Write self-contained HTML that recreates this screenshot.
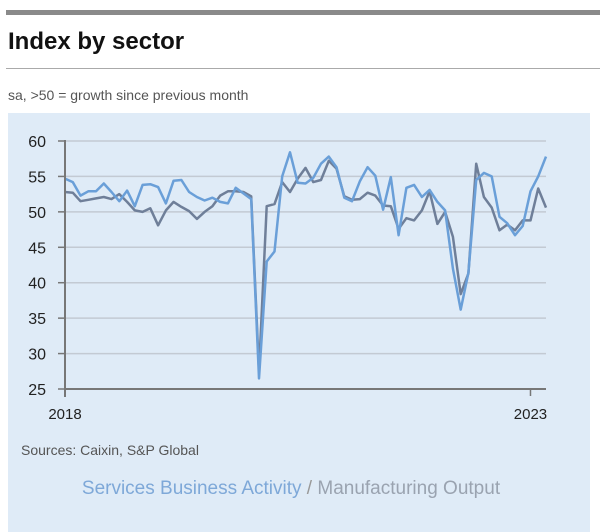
<!DOCTYPE html>
<html><head><meta charset="utf-8"><style>
body{margin:0;width:600px;height:532px;background:#fff;font-family:"Liberation Sans",sans-serif;position:relative;overflow:hidden}
.abs{position:absolute}
</style></head><body>
<div class="abs" style="left:6px;top:10px;width:594px;height:5px;background:#8a8a8a"></div>
<div class="abs" style="left:8px;top:28px;font-size:24px;font-weight:bold;color:#111">Index by sector</div>
<div class="abs" style="left:6px;top:68px;width:594px;height:1px;background:#aaa"></div>
<div class="abs" style="left:8px;top:87px;font-size:14px;color:#555">sa, &gt;50 = growth since previous month</div>
<div class="abs" style="left:8px;top:113px;width:582px;height:419px;background:#dfebf7"></div>
<svg class="abs" style="left:0;top:0" width="600" height="532">
<g id="grid"></g><g id="lines"></g><g id="axes"></g>
</svg>
<div class="abs" style="left:21px;top:442px;font-size:14px;color:#555">Sources: Caixin, S&amp;P Global</div>
<div class="abs" style="left:0;width:582px;top:478px;text-align:center;font-size:19px;color:#999;padding-left:0">
<span style="color:#7ea8d8">Services Business Activity</span> / <span style="color:#9aa3b0">Manufacturing Output</span></div>
<script>
const yTicks=[25,30,35,40,45,50,55,60];
const xLabels=["2018","2023"];
const xLabelIdx=[0,60];
const services=[54.7,54.2,52.3,52.9,52.9,54.0,52.8,51.5,53.0,50.8,53.8,53.9,53.5,51.2,54.4,54.5,52.8,52.1,51.6,52.0,51.4,51.2,53.4,52.6,51.8,26.5,43.0,44.4,55.0,58.4,54.1,54.0,54.8,56.8,57.8,56.3,52.0,51.5,54.3,56.3,55.1,50.3,54.9,46.7,53.4,53.8,52.1,53.1,51.4,50.2,42.0,36.2,41.4,54.5,55.5,55.0,49.3,48.4,46.7,48.0,52.9,55.0,57.8];
const manufacturing=[52.8,52.7,51.5,51.7,51.9,52.1,51.8,52.5,51.4,50.2,50.0,50.5,48.1,50.2,51.4,50.7,50.1,49.0,50.0,50.8,52.3,52.9,52.9,52.8,52.2,27.5,50.8,51.1,54.2,52.8,54.7,56.2,54.2,54.5,57.2,56.1,52.2,51.7,51.8,52.7,52.3,50.9,50.8,47.6,49.1,48.8,50.2,52.9,48.3,50.0,46.5,38.4,41.3,56.8,52.1,50.6,47.4,48.2,47.4,48.8,48.8,53.3,50.6];
const NS="http://www.w3.org/2000/svg";
const x0=65,x1=546,y0=389,y1=141,vmin=25,vmax=60,n=services.length;
const X=i=>x0+i*(x1-x0)/(n-1);
const Y=v=>y0-(v-vmin)*(y0-y1)/(vmax-vmin);
const grid=document.getElementById('grid'),lines=document.getElementById('lines'),axes=document.getElementById('axes');
function mk(t,a,p){const e=document.createElementNS(NS,t);for(const k in a)e.setAttribute(k,a[k]);p.appendChild(e);return e;}
yTicks.forEach(v=>{
  if(v>vmin){const g=mk('line',{x1:x0,x2:x1,y1:Y(v),y2:Y(v),stroke:'#c3cad3','stroke-width':1.5},grid);
  
  }
  const t=mk('line',{x1:x0-7,x2:x0,y1:Y(v),y2:Y(v),stroke:'#777','stroke-width':1.5},axes);
  
  
  const l=mk('text',{x:46,y:Y(v)+6,'text-anchor':'end','font-size':16,fill:'#222','font-family':'Liberation Sans, sans-serif'},axes);
  l.textContent=v;
  
  
});
const ya=mk('line',{x1:x0,x2:x0,y1:y1-1,y2:y0+8,stroke:'#777','stroke-width':2},axes);


const xa=mk('line',{x1:x0,x2:x1,y1:y0,y2:y0,stroke:'#777','stroke-width':2},axes);


xLabels.forEach((s,k)=>{
  const xx=X(xLabelIdx[k]);
  const t=mk('line',{x1:xx,x2:xx,y1:y0,y2:y0+7,stroke:'#777','stroke-width':1.5},axes);
  
  
  const l=mk('text',{x:xx,y:419,'text-anchor':'middle','font-size':15,fill:'#222','font-family':'Liberation Sans, sans-serif'},axes);
  l.textContent=s;
  
  
});
function series(d,c,name){
  const p=mk('polyline',{points:d.map((v,i)=>X(i).toFixed(1)+','+Y(v).toFixed(1)).join(' '),fill:'none',stroke:c,'stroke-width':2.5,'stroke-linejoin':'round'},lines);
  
  
}
series(manufacturing,'#6f7f99','manufacturing-output-line');
series(services,'#6a9fd8','services-activity-line');
</script>
</body></html>
